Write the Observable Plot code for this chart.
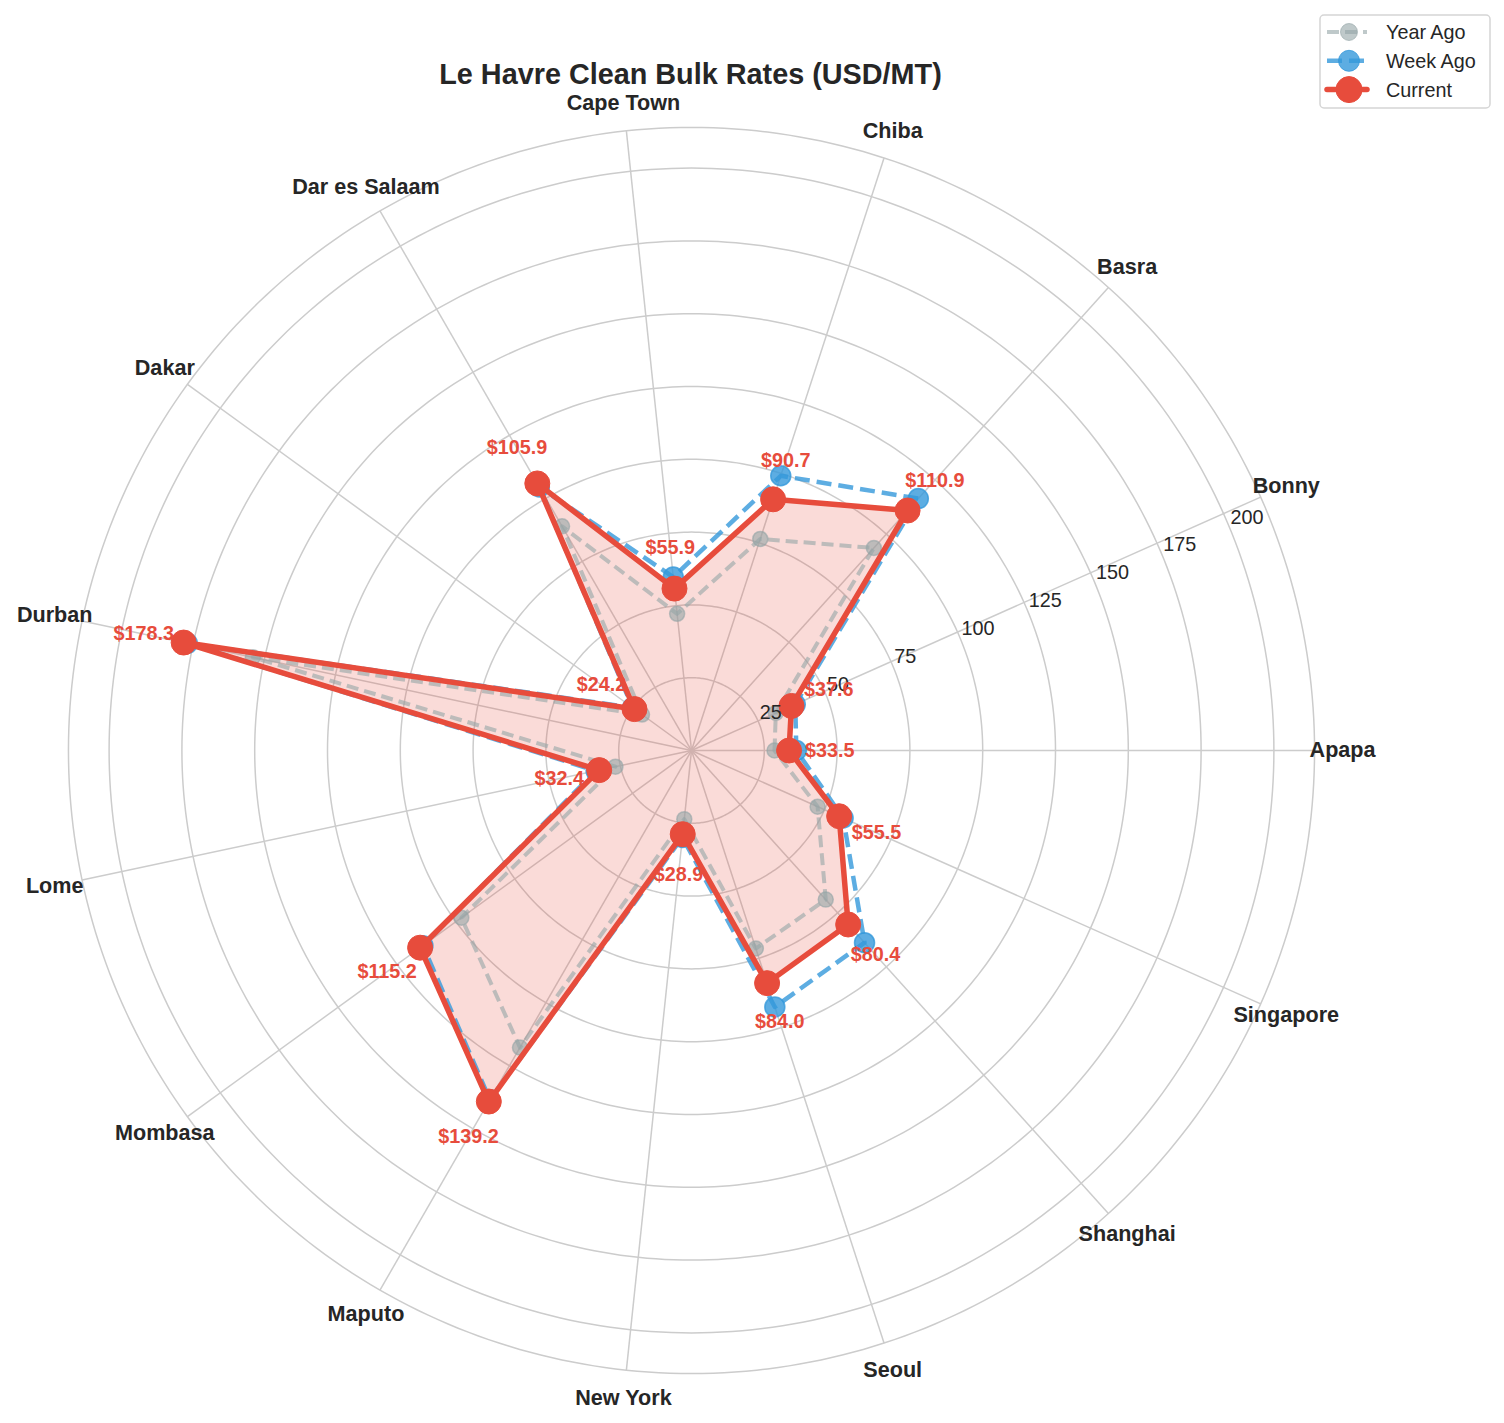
<!DOCTYPE html>
<html>
<head>
<meta charset="utf-8">
<script src="https://cdn.jsdelivr.net/npm/d3@7"></script>
<script src="https://cdn.jsdelivr.net/npm/@observablehq/plot@0.6"></script>
<style>
  html, body { margin: 0; padding: 0; background: #ffffff; }
  #wrap { position: relative; width: 1504px; height: 1423px; font-family: "Liberation Sans", Arial, Helvetica, sans-serif; }
  #chart { position: absolute; left: 0; top: 0; }
  #title { position: absolute; left: 0; top: 60px; width: 1381px; text-align: center; font-weight: bold;
           font-size: 28.8px; line-height: 28.8px; color: #262626; white-space: nowrap; }
  #legend { position: absolute; left: 1318px; top: 13px; }
</style>
</head>
<body>
<div id="wrap">
  <div id="chart"></div>
  <div id="title">Le Havre Clean Bulk Rates (USD/MT)</div>
  <div id="legend"></div>
</div>
<script>
// ---------------- data ----------------
const categories = ["Apapa", "Bonny", "Basra", "Chiba", "Cape Town", "Dar es Salaam", "Dakar", "Durban",
                    "Lome", "Mombasa", "Maputo", "New York", "Seoul", "Shanghai", "Singapore"];
const yearAgo = [28.5, 31.7, 93.6, 76.4, 47.2, 88.9, 21.0, 154.0, 26.7, 97.7, 117.8, 23.7, 71.5, 68.9, 47.4];
const weekAgo = [36.0, 39.0, 116.4, 99.2, 59.9, 104.5, 25.0, 177.0, 33.5, 114.0, 138.5, 30.0, 92.6, 88.8, 57.0];
const current = [33.5, 37.6, 110.9, 90.7, 55.9, 105.9, 24.2, 178.3, 32.4, 115.2, 139.2, 28.9, 84.0, 80.4, 55.5];
const radialTicks = [25, 50, 75, 100, 125, 150, 175, 200];
const seriesNames = ["Year Ago", "Week Ago", "Current"];

// ---------------- layout ----------------
const W = 1504, H = 1423, CX = 691, CY = 750, K = 2.912; // pixels per rate unit
const FONT = '"Liberation Sans", Arial, Helvetica, sans-serif';
const GRAY = "#95a5a6", BLUE = "#3498db", RED = "#e74c3c", TXT = "#262626", GRID = "#cccccc";

const N = categories.length;
const rMax = d3.max(current) * 1.2;
const theta = i => (i * 2 * Math.PI) / N;
const px = (r, t) => r * Math.cos(t);
const py = (r, t) => r * Math.sin(t);
const labelR = rMax + 28 / K;
const tickAngle = 22.5 * Math.PI / 180;

const rows = categories.map((cat, i) => ({cat, t: theta(i), year: yearAgo[i], week: weekAgo[i], cur: current[i]}));
const rings = [...radialTicks, rMax].flatMap(r => d3.range(0, 361, 1).map(a => ({r, t: a * Math.PI / 180})));

const chart = Plot.plot({
  width: W,
  height: H,
  margin: 0,
  style: {background: "#ffffff", fontFamily: FONT, overflow: "visible"},
  x: {domain: [-CX / K, (W - CX) / K], axis: null},
  y: {domain: [-(H - CY) / K, CY / K], axis: null},
  marks: [
    // grid rings and outer frame
    Plot.line(rings, {x: d => px(d.r, d.t), y: d => py(d.r, d.t), z: "r", stroke: GRID, strokeWidth: 1.5}),
    // spokes
    Plot.link(rows, {x1: d => 0, y1: d => 0, x2: d => px(rMax, d.t), y2: d => py(rMax, d.t), stroke: GRID, strokeWidth: 1.5}),
    // Current fill
    Plot.line(rows, {x: d => px(d.cur, d.t), y: d => py(d.cur, d.t), curve: "linear-closed",
      fill: RED, fillOpacity: 0.2, stroke: "none"}),
    // Year Ago
    Plot.line(rows, {x: d => px(d.year, d.t), y: d => py(d.year, d.t), curve: "linear-closed",
      stroke: GRAY, strokeOpacity: 0.6, strokeWidth: 4, strokeDasharray: "12,6", strokeLinecap: "butt"}),
    Plot.dot(rows, {x: d => px(d.year, d.t), y: d => py(d.year, d.t), r: 7.5,
      fill: GRAY, fillOpacity: 0.6, stroke: GRAY, strokeOpacity: 0.6, strokeWidth: 1.5}),
    // Week Ago
    Plot.line(rows, {x: d => px(d.week, d.t), y: d => py(d.week, d.t), curve: "linear-closed",
      stroke: BLUE, strokeOpacity: 0.8, strokeWidth: 4.5, strokeDasharray: "15,7", strokeLinecap: "butt"}),
    Plot.dot(rows, {x: d => px(d.week, d.t), y: d => py(d.week, d.t), r: 10,
      fill: BLUE, fillOpacity: 0.8, stroke: BLUE, strokeOpacity: 0.8, strokeWidth: 1.5}),
    // Current
    Plot.line(rows, {x: d => px(d.cur, d.t), y: d => py(d.cur, d.t), curve: "linear-closed",
      stroke: RED, strokeWidth: 5.5, strokeLinejoin: "round"}),
    Plot.dot(rows, {x: d => px(d.cur, d.t), y: d => py(d.cur, d.t), r: 12.5, fill: RED, stroke: RED, strokeWidth: 1}),
    // radial tick labels
    Plot.text(radialTicks, {x: r => px(r, tickAngle), y: r => py(r, tickAngle), text: r => String(r),
      textAnchor: "start", lineAnchor: "bottom", dx: 1, dy: -4, fontSize: 19.8, fill: TXT, fontFamily: FONT}),
    // category labels
    Plot.text(rows, {x: d => px(labelR, d.t), y: d => py(labelR, d.t), text: "cat",
      fontSize: 21.6, fontWeight: "bold", fill: TXT, fontFamily: FONT}),
    // value labels
    Plot.text(rows, {x: d => px(d.cur + 14, d.t), y: d => py(d.cur + 14, d.t), text: d => `$${d.cur.toFixed(1)}`,
      fontSize: 19.8, fontWeight: "bold", fill: RED, fontFamily: FONT})
  ]
});
document.getElementById("chart").appendChild(chart);

// ---------------- legend ----------------
const legendStyles = [
  {stroke: GRAY, opacity: 0.6, width: 4, dash: "12,6", r: 8.5},
  {stroke: BLUE, opacity: 0.8, width: 4.5, dash: "15,7", r: 10.5},
  {stroke: RED, opacity: 1, width: 5.5, dash: null, r: 13}
];
const lg = d3.select("#legend").append("svg").attr("width", 176).attr("height", 100);
lg.append("rect").attr("x", 2).attr("y", 2).attr("width", 170).attr("height", 93).attr("rx", 4)
  .attr("fill", "#ffffff").attr("fill-opacity", 0.8).attr("stroke", "#d5d5d5").attr("stroke-width", 1.5);
seriesNames.forEach((name, i) => {
  const s = legendStyles[i];
  const yy = 19 + i * 28.8;
  const ln = lg.append("line").attr("x1", 9).attr("x2", 49).attr("y1", yy).attr("y2", yy)
    .attr("stroke", s.stroke).attr("stroke-opacity", s.opacity).attr("stroke-width", s.width)
    .attr("stroke-linecap", s.dash ? "butt" : "round");
  if (s.dash) ln.attr("stroke-dasharray", s.dash);
  lg.append("circle").attr("cx", 31).attr("cy", yy).attr("r", s.r)
    .attr("fill", s.stroke).attr("fill-opacity", s.opacity).attr("stroke", s.stroke).attr("stroke-opacity", s.opacity);
  lg.append("text").attr("x", 68).attr("y", yy).attr("dy", "0.35em").text(name)
    .attr("font-size", 19.8).attr("fill", TXT).attr("font-family", FONT);
});
</script>
</body>
</html>
